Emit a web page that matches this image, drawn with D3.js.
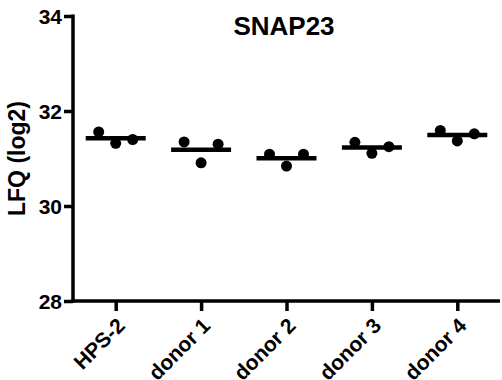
<!DOCTYPE html>
<html><head><meta charset="utf-8">
<script src="https://cdn.jsdelivr.net/npm/d3@7"></script>
<style>body{margin:0;background:#fff}svg{display:block}text{font-family:"Liberation Sans",Arial,sans-serif;font-weight:bold;fill:#000}</style>
</head><body>
<script>
const title = "SNAP23";
const yLabel = "LFQ (log2)";
const categories = ["HPS-2","donor 1","donor 2","donor 3","donor 4"];
const rep1 = [31.56, 31.35, 31.09, 31.34, 31.59];
const rep2 = [31.32, 30.91, 30.84, 31.11, 31.37];
const rep3 = [31.40, 31.30, 31.09, 31.25, 31.52];
const yTicks = [28, 30, 32, 34];

const W = 502, H = 380;
const svg = d3.select("body").append("svg").attr("width", W).attr("height", H);
const x = d3.scalePoint().domain(categories).range([73, 500]).padding(0.5);
const y = d3.scaleLinear().domain([28, 34]).range([301, 16]);

// y axis
const ya = svg.append("g").attr("transform","translate(73,0)")
  .call(d3.axisLeft(y).tickValues(yTicks).tickSize(9).tickPadding(2).tickFormat(d3.format("d")));
ya.select(".domain").attr("stroke","#000").attr("stroke-width",3.5).attr("d","M0,14.5V302.7");
ya.selectAll(".tick line").attr("stroke","#000").attr("stroke-width",3.5);
ya.selectAll(".tick text").style("font-size","21px").attr("dy","0.36em");

// x axis
const xa = svg.append("g").attr("transform","translate(0,301)")
  .call(d3.axisBottom(x).tickSize(10).tickSizeOuter(0));
xa.select(".domain").attr("stroke","#000").attr("stroke-width",3.5).attr("d","M71.25,0H500");
xa.selectAll(".tick line").attr("stroke","#000").attr("stroke-width",3.5);
xa.selectAll(".tick text").style("font-size","21px")
  .attr("text-anchor","end").attr("y",0).attr("dy",0)
  .attr("transform","translate(10,26) rotate(-45)");

// title
svg.append("text").attr("x",284).attr("y",35).attr("text-anchor","middle").style("font-size","26px").text(title);
// y label
svg.append("text").attr("transform",`translate(25,${(y(28)+y(34))/2}) rotate(-90)`)
  .attr("text-anchor","middle").style("font-size","23px").text(yLabel);

// data
const reps = [rep1, rep2, rep3];
const offs = [-17, 0, 17];
const g = svg.append("g");
categories.forEach((c,i) => {
  const vals = reps.map(r => r[i]);
  const m = d3.mean(vals);
  g.append("line").attr("x1", x(c)-30).attr("x2", x(c)+30)
    .attr("y1", y(m)).attr("y2", y(m)).attr("stroke","#000").attr("stroke-width",4.5);
  vals.forEach((v,j) => {
    g.append("circle").attr("cx", x(c)+offs[j]).attr("cy", y(v)).attr("r",5.5).attr("fill","#000");
  });
});
</script>
</body></html>
